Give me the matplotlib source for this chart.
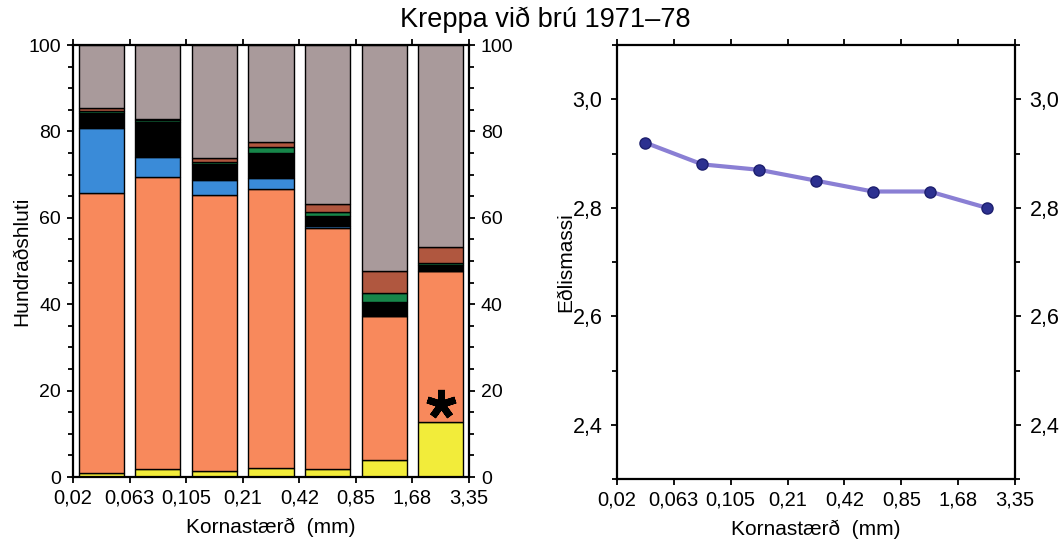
import numpy as np
import matplotlib.pyplot as plt
from matplotlib.ticker import MultipleLocator

plt.rcParams['font.family'] = ['Liberation Sans', 'DejaVu Sans']

# grain size class boundaries (mm)
size_labels = ["0,02", "0,063", "0,105", "0,21", "0,42", "0,85", "1,68", "3,35"]

# percentage of each component per grain size class (bottom to top)
yellow = [1.0, 1.9, 1.5, 2.2, 1.8, 3.9, 12.8]
orange = [64.7, 67.6, 63.8, 64.4, 55.8, 33.4, 35.0]
blue = [15.0, 4.6, 3.4, 2.7, 0.6, 0.0, 0.0]
black = [3.5, 8.0, 3.7, 5.6, 2.3, 3.3, 1.3]
green = [0.5, 0.5, 0.5, 1.6, 0.8, 2.1, 0.5]
brown = [0.8, 0.3, 0.9, 1.0, 1.9, 5.1, 3.7]
grey = [14.5, 17.1, 26.2, 22.5, 36.8, 52.2, 46.7]

# density per grain size class
density = [2.92, 2.88, 2.87, 2.85, 2.83, 2.83, 2.80]

layers = [yellow, orange, blue, black, green, brown, grey]
layer_colors = ["#f2ec3a", "#f8895c", "#3a8bd8", "#000000", "#17864a", "#b0573f", "#a99a9b"]

fig = plt.figure(figsize=(10.64, 5.42), dpi=100)
ax1 = fig.add_axes([0.0686, 0.1199, 0.3722, 0.797])
ax2 = fig.add_axes([0.5799, 0.1162, 0.3740, 0.8007])

x = np.arange(len(yellow))
bottom = np.zeros(len(x))
for vals, col in zip(layers, layer_colors):
    ax1.bar(x, vals, width=0.8, bottom=bottom, color=col, edgecolor="black", linewidth=1.0)
    bottom += np.array(vals)

# asterisk above the yellow part of the last bar
ax1.plot(x[-1], yellow[-1] + 4, marker=(5, 2, 0), ms=21, mew=5, color="black")

ax1.set_xlim(-0.5, len(x) - 0.5)
ax1.set_ylim(0, 100)
ax1.yaxis.set_major_locator(MultipleLocator(20))
ax1.yaxis.set_minor_locator(MultipleLocator(5))
ax1.set_ylabel("Hundraðshluti", fontsize=15)
ax1.yaxis.set_label_coords(-0.105, 0.5)
ax1.tick_params(axis="y", labelsize=14)

ax2.plot(x, density, color="#8a7fd4", lw=3, marker="o", ms=8,
         mfc="#2c3090", mec="#1d1f6e", mew=1)
ax2.set_xlim(-0.5, len(x) - 0.5)
ax2.set_ylim(2.3, 3.1)
ax2.set_yticks([2.4, 2.6, 2.8, 3.0])
ax2.set_yticklabels(["2,4", "2,6", "2,8", "3,0"])
ax2.yaxis.set_minor_locator(MultipleLocator(0.1))
ax2.set_ylabel("Eðlismassi", fontsize=15)
ax2.yaxis.set_label_coords(-0.106, 0.5)
ax2.tick_params(axis="y", labelsize=15.5)

for ax in (ax1, ax2):
    ax.set_xticks(np.arange(len(size_labels)) - 0.5)
    ax.set_xticklabels(size_labels)
    ax.set_xlabel("Kornastærð  (mm)", fontsize=15, labelpad=7)
    ax.tick_params(which="both", direction="out", top=True, right=True,
                   labelright=True, width=1.3, pad=4)
    ax.tick_params(axis="x", labelsize=14.5)
    ax.tick_params(which="major", length=4.5)
    ax.tick_params(which="minor", length=3.5)
    ax.tick_params(axis="x", which="minor", bottom=False, top=False)
    for sp in ax.spines.values():
        sp.set_linewidth(1.6)

ax2.tick_params(axis="y", which="major", pad=6)

fig.text(0.512, 0.963, "Kreppa við brú 1971–78", ha="center", va="center", fontsize=19.5)

fig.savefig("out.png", dpi=100)
